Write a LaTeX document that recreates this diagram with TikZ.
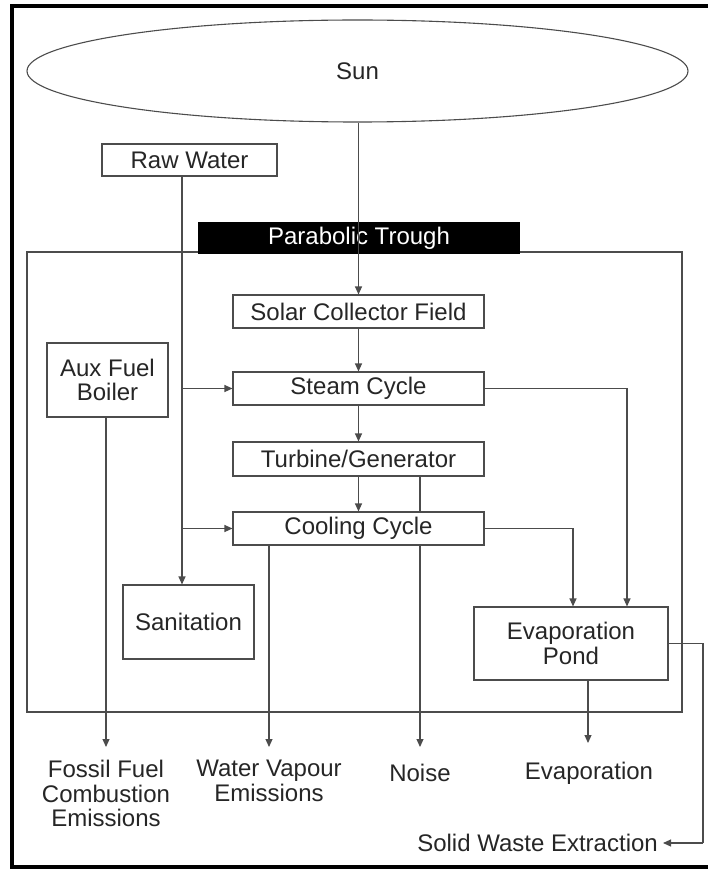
\documentclass[tikz,border=0pt]{standalone}
\usepackage{fontspec}
\setmainfont{Liberation Sans}
\usetikzlibrary{arrows.meta,shapes.geometric}
\begin{document}
\begin{tikzpicture}[x=1pt,y=-1pt,
  every node/.style={font=\fontsize{24}{24.5}\selectfont, text=black!85, align=center, inner sep=0pt},
  ln/.style={draw=black!70, line width=1.1pt},
  arr/.style={ln, -{Triangle[length=8pt,width=7pt]}},
  box/.style={draw=black!70, line width=1.1pt, fill=white, rectangle},
  lbl/.style={}]
\useasboundingbox (0,0) rectangle (708,869);
% outer border (right side cropped)
\draw[line width=3.5pt, black] (712,6) -- (12,6) -- (12,867) -- (712,867);
% inner frame
\draw[ln] (27,252) rectangle (682,712);
% named x positions
\coordinate (rwx) at (182,0);
\coordinate (nzx) at (420,0);
\coordinate (sx) at (627,0);
\coordinate (cx) at (573,0);
\coordinate (ex) at (588,0);
\coordinate (sw) at (703,0);
% free ends
\coordinate (fossilin) at (106,747);
\coordinate (wvin) at (269,747);
\coordinate (noisein) at (420,747);
\coordinate (evapin) at (588,743);
% nodes
\node[draw=black!70, line width=1.1pt, ellipse, minimum width=661pt, minimum height=102pt] (sun) at (357.5,71) {Sun};
\node[box, minimum width=175pt, minimum height=32pt] (raw) at (189.5,160) {Raw Water};
\node[rectangle, fill=black, text=white, minimum width=322pt, minimum height=32pt] (pt) at (359,238) {Parabolic Trough};
\node[box, minimum width=251pt, minimum height=33pt] (scf) at (358.5,311.5) {Solar Collector Field};
\node[box, minimum width=251pt, minimum height=33pt] (steam) at (358.5,388.5) {Steam Cycle};
\node[box, minimum width=251pt, minimum height=34pt] (turb) at (358.5,459) {Turbine/Generator};
\draw[arr] (turb.south -| nzx) -- (noisein);
\node[box, minimum width=251pt, minimum height=33pt] (cool) at (358.5,528.5) {Cooling Cycle};
\node[box, minimum width=121pt, minimum height=74pt] (aux) at (107.5,380) {Aux Fuel\\Boiler};
\node[box, minimum width=131pt, minimum height=74pt] (san) at (188.5,622) {Sanitation};
\node[box, minimum width=194pt, minimum height=73pt] (pond) at (571,643.5) {Evaporation\\Pond};
% output labels
\node[lbl, anchor=north] (fossil) at (106,760) {Fossil Fuel\\Combustion\\Emissions};
\node[lbl, anchor=north] (wv) at (269,760) {Water Vapour\\Emissions};
\node[lbl] (noise) at (420,773) {Noise};
\node[lbl] (evap) at (589,773) {Evaporation};
\node[lbl, anchor=east] (solid) at (658,843) {Solid Waste Extraction};
% connectors
\draw[arr] (sun.south -| scf.north) -- (scf.north);
\draw[arr] (scf.south) -- (steam.north);
\draw[arr] (steam.south) -- (turb.north);
\draw[arr] (turb.south) -- (cool.north);
\draw[arr] (raw.south -| rwx) -- (san.north -| rwx);
\draw[arr] (steam.west -| rwx) -- (steam.west);
\draw[arr] (cool.west -| rwx) -- (cool.west);
\draw[arr] (aux.south -| fossilin) -- (fossilin);
\draw[arr] (cool.south -| wvin) -- (wvin);
\draw[arr] (steam.east) -| (pond.north -| sx);
\draw[arr] (cool.east) -| (pond.north -| cx);
\draw[arr] (pond.south -| ex) -- (evapin);
\draw[ln] (pond.east) -| (solid -| sw);
\draw[arr] (solid -| sw) -- ([xshift=5pt]solid.east);
\end{tikzpicture}
\end{document}
